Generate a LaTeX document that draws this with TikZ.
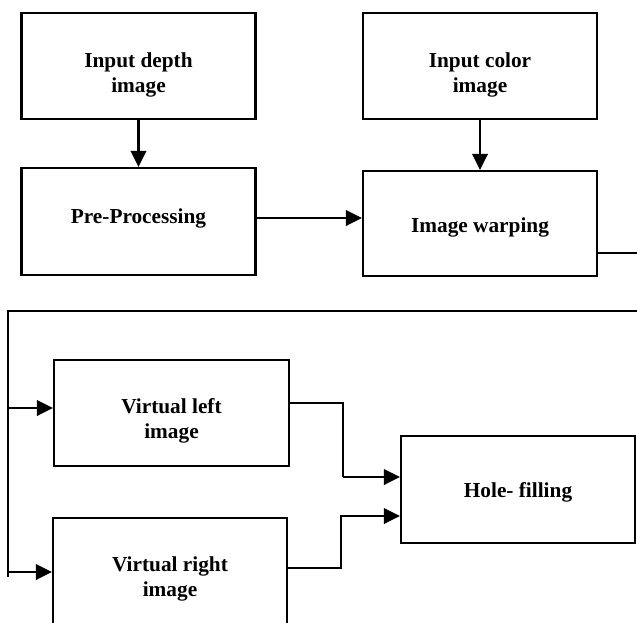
\documentclass[tikz,border=0pt]{standalone}
\usepackage{fontspec}
\setmainfont{Liberation Serif}
\usetikzlibrary{arrows.meta}
\tikzset{
  box/.style={draw, line width=2.2pt, minimum width=234pt, minimum height=106pt, inner sep=0pt},
  lbl/.style={align=center, font=\fontsize{21.3}{25}\selectfont\bfseries, inner sep=0pt},
  wire/.style={line width=2.2pt},
  arr/.style={line width=2.2pt, -{Triangle[length=16pt,width=15.5pt]}}
}
\begin{document}
\begin{tikzpicture}[x=1pt,y=-1pt]
\useasboundingbox (0,0) rectangle (637,622);
% boxes
\node[box] (depth) at (138.5,66) {};
\node[box] (color) at (480,66) {};
\node[box, minimum height=107pt] (pre) at (138.5,221.5) {};
\node[box, minimum height=105pt] (warp) at (480,223.5) {};
\node[box, minimum width=235pt] (vleft) at (171.5,413) {};
\node[box] (vright) at (170,571) {};
\node[box, minimum height=107pt] (hole) at (518,489.5) {};
% labels
\node[lbl] (tdepth) at ([yshift=-8.5pt]depth.center) {Input depth\\image};
\node[lbl] (tcolor) at ([yshift=-8.5pt]color.center) {Input color\\image};
\node[lbl] (tpre) at ([yshift=3pt]pre.center) {Pre-Processing};
\node[lbl] (twarp) at ([yshift=-3.5pt]warp.center) {Image warping};
\node[lbl] (tvleft) at ([yshift=-8pt]vleft.center) {Virtual left\\image};
\node[lbl] (tvright) at ([yshift=-8pt]vright.center) {Virtual right\\image};
\node[lbl] (thole) at ([yshift=-2.5pt]hole.center) {Hole- filling};
% coordinates
\coordinate (wr) at (637,253);
\coordinate (tl) at (8,311);
\coordinate (tr) at (637,311);
\coordinate (bl) at (8,577);
\coordinate (al) at (8,408);
\coordinate (ar) at (8,572);
\coordinate (kl) at (343,403);
\coordinate (kr) at (341,568);
% connectors
\draw[arr] (depth.south) -- (pre.north);
\draw[arr] (color.south) -- (warp.north);
\draw[arr] ([yshift=3.5pt]pre.east) -- ([yshift=3.5pt]pre.east -| warp.west);
\draw[wire] ([yshift=-29.5pt]warp.east) -- (wr);
\draw[wire] (tr) -- (tl) -- (bl);
\draw[arr] (al) -- (al -| vleft.west);
\draw[arr] (ar) -- (ar -| vright.west);
\draw[wire] (vleft.east |- kl) -- (kl) -- (kl |- 0,477);
\draw[arr] (343,477) -- ([yshift=12.5pt]hole.west);
\draw[arr] (vright.east |- kr) -- (kr) -- (kr |- 0,516) -- ([yshift=-26.5pt]hole.west);
\end{tikzpicture}
\end{document}
